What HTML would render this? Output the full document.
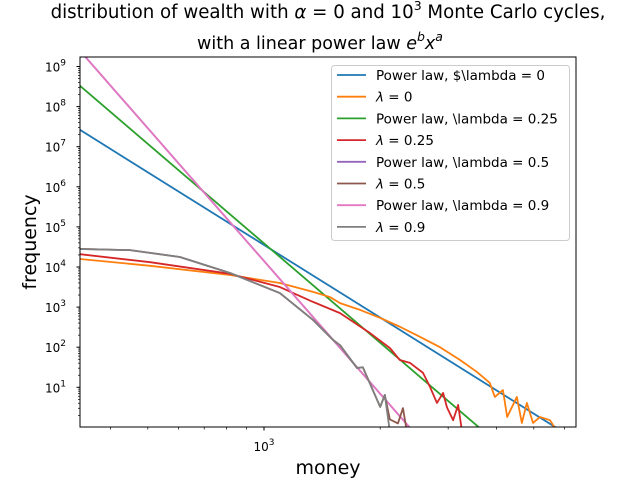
<!DOCTYPE html>
<html><head><meta charset="utf-8"><style>
html,body{margin:0;padding:0;background:#fff;overflow:hidden;width:640px;height:480px}
svg{display:block;overflow:hidden}
svg text{font-family:"DejaVu Sans","Liberation Sans",sans-serif}
</style></head><body>
<svg id="chart" width="640" height="480" xmlns="http://www.w3.org/2000/svg">
<rect width="640" height="480" fill="#fff"/>
<text x="328" y="18" font-size="18.2" text-anchor="middle">distribution of wealth with <tspan font-style="italic">α</tspan> = 0 and  10<tspan font-size="12.5" dy="-8">3</tspan><tspan dy="8"> Monte Carlo cycles,</tspan></text>
<text x="320" y="49" font-size="17.5" text-anchor="middle">with a linear power law <tspan font-style="italic">e</tspan><tspan font-size="12.5" dy="-8" font-style="italic">b</tspan><tspan dy="8" font-style="italic">x</tspan><tspan font-size="12.5" dy="-8" font-style="italic">a</tspan></text>
<text x="328" y="474" font-size="19" text-anchor="middle">money</text>
<text transform="translate(36,242) rotate(-90)" font-size="19" text-anchor="middle">frequency</text>
<defs><clipPath id="clip"><rect x="80" y="57" width="496" height="370"/></clipPath></defs>
<g id="marks" clip-path="url(#clip)"></g>
<g id="axes"></g>
<rect x="80" y="57" width="496" height="370" fill="none" stroke="#000" stroke-width="1"/>
<g id="legend"></g>
</svg>
<script>
// data (log10 values)
const orangeX=[2.523,2.705,2.912,3.041,3.127,3.171,3.197,3.249,3.301,3.352,3.404,3.456,3.508,3.552,3.585,3.598,3.619,3.630,3.655,3.668,3.681,3.697,3.715,3.741,3.759];
const orangeY=[4.20,4.03,3.80,3.60,3.38,3.25,3.10,2.93,2.73,2.51,2.26,2.00,1.68,1.38,1.11,0.76,0.93,0.26,0.76,0.11,0.61,0.11,0.26,0.18,-0.1];
const redX=[2.523,2.705,2.912,3.041,3.127,3.197,3.275,3.326,3.352,3.378,3.412,3.430,3.448,3.464,3.474,3.490,3.503,3.513];
const redY=[4.32,4.12,3.83,3.50,3.13,2.85,2.35,1.98,1.68,1.61,1.36,1.01,0.61,0.86,0.50,0.18,0.56,-0.1];
const brownX=[2.523,2.653,2.782,2.912,3.041,3.127,3.179,3.197,3.241,3.256,3.282,3.301,3.313,3.326,3.347,3.360,3.370];
const brownY=[4.45,4.42,4.25,3.85,3.35,2.68,2.18,2.05,1.48,1.50,0.93,0.51,0.81,0.20,0.10,0.48,-0.1];
const grayX=[2.523,2.653,2.782,2.912,3.041,3.127,3.179,3.197,3.241,3.256,3.282,3.301,3.313,3.326];
const grayY=[4.45,4.42,4.25,3.85,3.35,2.68,2.18,2.05,1.48,1.50,0.93,0.51,0.81,-0.1];
const lawIntercepts=[22.61,29.31,37.15,37.15];
const lawSlopes=[-6.02,-8.24,-11.0,-11.0];
const lawColors=['#1f77b4','#2ca02c','#9467bd','#e377c2'];
const yTickExps=[1,2,3,4,5,6,7,8,9];
const legendLabels=['Power law, $\\lambda = 0','λ = 0','Power law, \\lambda = 0.25','λ = 0.25','Power law, \\lambda = 0.5','λ = 0.5','Power law, \\lambda = 0.9','λ = 0.9'];
const legendColors=['#1f77b4','#ff7f0e','#2ca02c','#d62728','#9467bd','#8c564b','#e377c2','#7f7f7f'];

const NS='http://www.w3.org/2000/svg';
const sx=lx=>264+(lx-3)*386;
const sy=ly=>66.5+(9-ly)*40.1;
function mk(t,attrs,parent){const e=document.createElementNS(NS,t);for(const k in attrs)e.setAttribute(k,attrs[k]);parent.appendChild(e);return e;}
const marks=document.getElementById('marks'),axes=document.getElementById('axes'),leg=document.getElementById('legend');
function poly(xs,ys,color,name){
  const p=mk('polyline',{points:xs.map((x,i)=>sx(x)+','+sy(ys[i])).join(' '),fill:'none',stroke:color,'stroke-width':1.8,'stroke-linejoin':'round'},marks);
  
  
}
const lawNames=['power-law-lambda-0','power-law-lambda-0.25','power-law-lambda-0.5','power-law-lambda-0.9'];
const x0=2.52,x1=3.82;
[0,1].forEach(i=>poly([x0,x1],[lawIntercepts[i]+lawSlopes[i]*x0,lawIntercepts[i]+lawSlopes[i]*x1],lawColors[i],lawNames[i]));
poly(orangeX,orangeY,'#ff7f0e','series-lambda-0');
poly(redX,redY,'#d62728','series-lambda-0.25');
[2,3].forEach(i=>poly([x0,x1],[lawIntercepts[i]+lawSlopes[i]*x0,lawIntercepts[i]+lawSlopes[i]*x1],lawColors[i],lawNames[i]));
poly(brownX,brownY,'#8c564b','series-lambda-0.5');
poly(grayX,grayY,'#7f7f7f','series-lambda-0.9');
// y ticks
yTickExps.forEach(e=>{
  const y=sy(e);
  const l=mk('line',{x1:76.5,x2:80,y1:y,y2:y,stroke:'#000'},axes);
  
  
  const t=mk('text',{x:66,y:y+5,'font-size':12,'text-anchor':'end'},axes);
  
  
  t.innerHTML='10<tspan font-size="9" dy="-6">'+e+'</tspan>';
  for(let m=2;m<10;m++){const ym=sy(e-1+Math.log10(m));if(ym<427&&ym>57)mk('line',{x1:78,x2:80,y1:ym,y2:ym,stroke:'#000','stroke-width':0.7},axes);}
});
for(let m=2;m<10;m++){const ym=sy(9+Math.log10(m));if(ym>57)mk('line',{x1:78,x2:80,y1:ym,y2:ym,stroke:'#000','stroke-width':0.7},axes);}
// x ticks
[400,500,600,700,800,900,2000,3000,4000,5000,6000].forEach(v=>{
  const x=sx(Math.log10(v));
  const l=mk('line',{x1:x,x2:x,y1:427,y2:429.5,stroke:'#000','stroke-width':0.7},axes);
  
  
});
{const x=sx(3);mk('line',{x1:x,x2:x,y1:427,y2:430.5,stroke:'#000'},axes);
 const t=mk('text',{x:x,y:451,'font-size':12,'text-anchor':'middle'},axes);
 
 
 t.innerHTML='10<tspan font-size="9" dy="-6">3</tspan>';}
// legend
const box=mk('rect',{x:331.5,y:65.5,width:238,height:175,rx:3,fill:'#fff','fill-opacity':0.8,stroke:'#ccc'},leg);


legendLabels.forEach((lab,i)=>{
  const y=75+i*21.7;
  const l=mk('line',{x1:337,x2:366,y1:y,y2:y,stroke:legendColors[i],'stroke-width':1.8},leg);
  
  
  const t=mk('text',{x:376,y:y+5,'font-size':13.5},leg);
  
  
  if(lab.startsWith('λ')){t.innerHTML='<tspan font-style="italic">λ</tspan>'+lab.slice(1);}else{t.textContent=lab;}
});
</script>
</body></html>
